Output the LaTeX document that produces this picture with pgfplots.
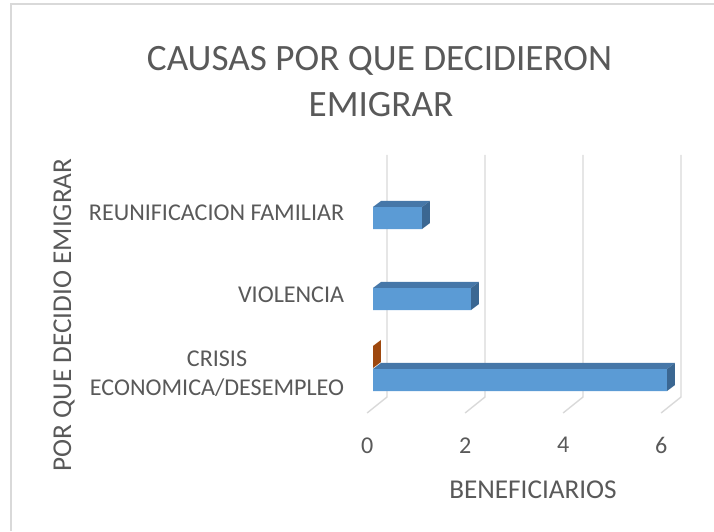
\documentclass[border=0pt]{standalone}
\usepackage{pgfplots}
\pgfplotsset{compat=1.18}
\usepackage{fontspec}
\setmainfont{Carlito}
\definecolor{txt}{HTML}{595959}
\definecolor{gridc}{HTML}{D9D9D9}
\definecolor{bfront}{HTML}{5B9BD5}
\definecolor{btop}{HTML}{4677A8}
\definecolor{bside}{HTML}{3B6792}
\definecolor{oside}{HTML}{9E480E}
\begin{document}
\begin{tikzpicture}[x=1pt,y=1pt]
\useasboundingbox (0,0) rectangle (714,531);
\draw[gridc,line width=1.2pt] (11,0) -- (11,527) -- (714,527);
\begin{axis}[
  at={(358.3pt,117.8pt)}, anchor=south west,
  scale only axis, width=333.2pt, height=260pt,
  xmin=-0.3, xmax=6.5, ymin=-0.41, ymax=2.8,
  clip=false,
  axis line style={draw=none},
  major tick length=0pt,
  xtick={-0.12,1.88,3.88,5.88}, xticklabels={0,2,4,6},
  ytick={0.08,1.056,2.06},
  yticklabels={{CRISIS\\ECONOMICA/DESEMPLEO},VIOLENCIA,REUNIFICACION FAMILIAR},
  ticklabel style={font=\fontsize{24.1}{28.5}\selectfont, text=txt},
  yticklabel style={align=center, inner sep=0pt, xshift=-14pt},
  xticklabel style={inner sep=0pt, yshift=-24pt},
  /pgf/number format/assume math mode=true,
]
% back wall gridlines and floor lines
\addplot[gridc, line width=1.4pt] coordinates {(-0.12,-0.407) (0.286,-0.21) (0.286,2.78)};
\addplot[gridc, line width=1.4pt] coordinates {(1.88,-0.407) (2.286,-0.21) (2.286,2.78)};
\addplot[gridc, line width=1.4pt] coordinates {(3.88,-0.407) (4.286,-0.21) (4.286,2.78)};
\addplot[gridc, line width=1.4pt] coordinates {(5.88,-0.407) (6.286,-0.21) (6.286,2.78)};
% orange series (value 0 at CRISIS) : side face
\addplot[draw=none, fill=oside] coordinates {(0,0.148) (0,0.42) (0.163,0.494) (0.163,0.222)} -- cycle;
% blue series: front faces
\addplot[xbar, bar width=0.272, bar shift=0pt, fill=bfront, draw=none] coordinates {(6,0) (2,1) (1,2)};
% top faces
\addplot[draw=none, fill=btop] coordinates {(0,0.136) (6,0.136) (6.163,0.21) (0.163,0.21)} -- cycle;
\addplot[draw=none, fill=btop] coordinates {(0,1.136) (2,1.136) (2.163,1.21) (0.163,1.21)} -- cycle;
\addplot[draw=none, fill=btop] coordinates {(0,2.136) (1,2.136) (1.163,2.21) (0.163,2.21)} -- cycle;
% side faces
\addplot[draw=none, fill=bside] coordinates {(6,-0.136) (6,0.136) (6.163,0.21) (6.163,-0.062)} -- cycle;
\addplot[draw=none, fill=bside] coordinates {(2,0.864) (2,1.136) (2.163,1.21) (2.163,0.938)} -- cycle;
\addplot[draw=none, fill=bside] coordinates {(1,1.864) (1,2.136) (1.163,2.21) (1.163,1.938)} -- cycle;
\end{axis}
\node[anchor=base, text=txt, font=\fontsize{37.2}{46}\selectfont] at (379.5,531-70.7) {CAUSAS POR QUE DECIDIERON};
\node[anchor=base, text=txt, font=\fontsize{37.2}{46}\selectfont] at (381,531-116.7) {EMIGRAR};
\node[text=txt, font=\fontsize{27.2}{32}\selectfont, inner sep=0pt] at (533,531-489.5) {BENEFICIARIOS};
\node[text=txt, font=\fontsize{27.2}{32}\selectfont, inner sep=0pt, rotate=90] at (64,531-315) {POR QUE DECIDIO EMIGRAR};
\end{tikzpicture}
\end{document}
